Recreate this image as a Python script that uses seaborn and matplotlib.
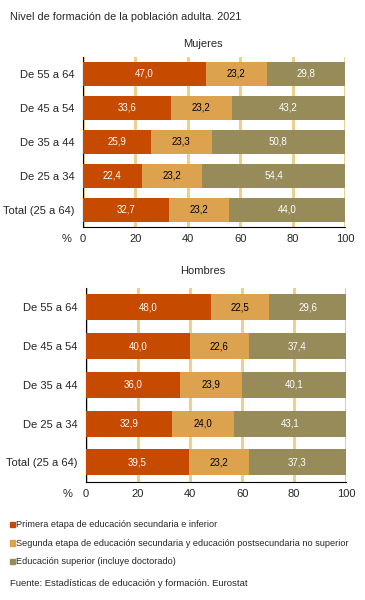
import numpy as np
import pandas as pd
import matplotlib
matplotlib.use("Agg")
import matplotlib.pyplot as plt
import seaborn as sns

sns.set_style("white")
plt.rcParams["font.family"] = ["Liberation Sans", "DejaVu Sans"]

# DATA
groups = ["De 55 a 64", "De 45 a 54", "De 35 a 44", "De 25 a 34", "Total (25 a 64)"]
series_names = [
    "Primera etapa de educación secundaria e inferior",
    "Segunda etapa de educación secundaria y educación postsecundaria no superior",
    "Educación superior (incluye doctorado)",
]
mujeres_primera = [47.0, 33.6, 25.9, 22.4, 32.7]
mujeres_segunda = [23.2, 23.2, 23.3, 23.2, 23.2]
mujeres_superior = [29.8, 43.2, 50.8, 54.4, 44.0]
hombres_primera = [48.0, 40.0, 36.0, 32.9, 39.5]
hombres_segunda = [22.5, 22.6, 23.9, 24.0, 23.2]
hombres_superior = [29.6, 37.4, 40.1, 43.1, 37.3]
x_ticks = [0, 20, 40, 60, 80, 100]

colors = ["#C64A00", "#DCA24E", "#978B5A"]
label_colors = ["white", "black", "white"]
grid_color = "#E8D28E"


def stacked_panel(ax, values, bar_width):
    df = pd.DataFrame({"grupo": groups,
                       "a": values[0], "b": values[1], "c": values[2]})
    cum = df[["a", "b", "c"]].cumsum(axis=1)
    # draw totals first, then overlay shorter cumulative bars
    for col, color in zip(["c", "b", "a"], colors[::-1]):
        sns.barplot(data=cum, x=col, y=df["grupo"], orient="h", color=color,
                    width=bar_width, saturation=1, ax=ax, zorder=3,
                    edgecolor="none")
    starts = cum.shift(axis=1, fill_value=0)
    for j, col in enumerate(["a", "b", "c"]):
        for i in range(len(groups)):
            v = df[col].iloc[i]
            ax.text(starts[col].iloc[i] + v / 2, i, f"{v:.1f}".replace(".", ","),
                    ha="center", va="center", fontsize=7,
                    color=label_colors[j], zorder=4)

    ax.set_xlim(0, 100)
    ax.set_ylim(len(groups) - 0.5, -0.5)
    ax.set_xticks(x_ticks)
    ax.set_xticklabels([str(t) for t in x_ticks], fontsize=8)
    ax.tick_params(axis="y", length=0, labelsize=8, pad=6)
    ax.set_yticks(np.arange(len(groups) + 1) - 0.5, minor=True)
    ax.tick_params(axis="y", which="minor", length=3, color="black", width=0.8)
    ax.tick_params(axis="x", length=3, color="black", width=0.8, pad=2)
    ax.xaxis.grid(True, color=grid_color, linewidth=2.2, zorder=0)
    ax.set_axisbelow(True)
    ax.set_xlabel("")
    ax.set_ylabel("")
    for side in ["top", "right"]:
        ax.spines[side].set_visible(False)
    for side in ["left", "bottom"]:
        ax.spines[side].set_color("black")
        ax.spines[side].set_linewidth(0.8)


fig = plt.figure(figsize=(3.65, 6.0), dpi=100)

ax1 = fig.add_axes([0.227, 0.622, 0.718, 0.283])
stacked_panel(ax1, [mujeres_primera, mujeres_segunda, mujeres_superior], 0.72)
ax1.set_title("Mujeres", fontsize=8, pad=7, x=0.46)

ax2 = fig.add_axes([0.236, 0.197, 0.712, 0.323])
stacked_panel(ax2, [hombres_primera, hombres_segunda, hombres_superior], 0.67)
ax2.set_title("Hombres", fontsize=8, pad=10, x=0.45)

fig.text(0.168, 0.597, "%", fontsize=8)
fig.text(0.172, 0.172, "%", fontsize=8)

fig.text(0.027, 0.972, "Nivel de formación de la población adulta. 2021",
         fontsize=7.8, va="center")

for k, (name, color) in enumerate(zip(series_names, colors)):
    y = 0.126 - k * 0.031
    fig.patches.append(plt.Rectangle((0.027, y - 0.0045), 0.014, 0.009,
                                     transform=fig.transFigure, color=color))
    fig.text(0.044, y, name, fontsize=6.6, va="center")

fig.text(0.027, 0.028, "Fuente: Estadísticas de educación y formación. Eurostat",
         fontsize=6.8, va="center")

fig.savefig("out.png", dpi=100)
plt.close(fig)
